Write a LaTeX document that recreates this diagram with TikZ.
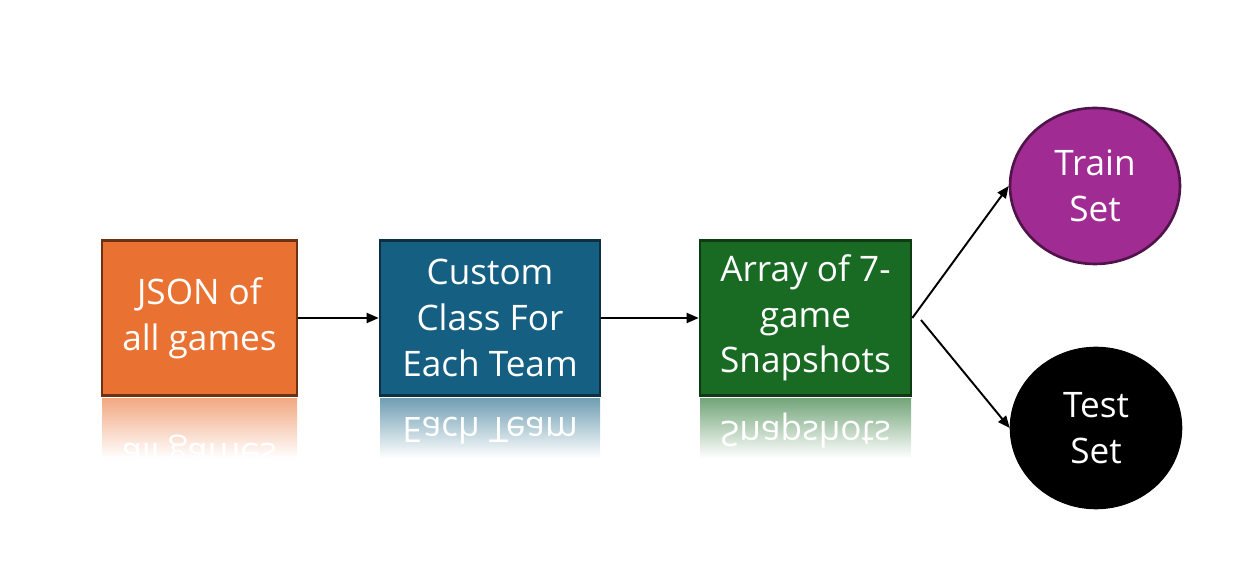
\documentclass[tikz,border=0pt]{standalone}
\usepackage{fontspec}
\setmainfont{Open Sans}
\usetikzlibrary{arrows.meta,shapes.geometric}

\definecolor{jsonfill}{RGB}{233,113,50}
\definecolor{jsonline}{RGB}{110,50,18}
\definecolor{teamfill}{RGB}{21,96,130}
\definecolor{teamline}{RGB}{12,48,66}
\definecolor{snapfill}{RGB}{25,107,36}
\definecolor{snapline}{RGB}{14,58,20}
\definecolor{trainfill}{RGB}{160,43,147}
\definecolor{trainline}{RGB}{80,20,74}

\begin{document}
\begin{tikzpicture}[x=0.02cm, y=-0.02cm,
    stepbox/.style={draw, line width=1.5pt, minimum height=3.1cm, inner sep=0pt,
        text=white, align=center, font=\fontsize{20}{26}\selectfont},
    mirror/.style={text=white, align=center, inner sep=0pt, transform shape,
        font=\fontsize{20}{26}\selectfont},
    setnode/.style={ellipse, draw, line width=1.5pt, minimum width=3.4cm, inner sep=0pt,
        text=white, align=center, font=\fontsize{20}{26}\selectfont},
    flow/.style={-{Triangle[length=0.24cm,width=0.2cm]}, line width=1.1pt}]

  \useasboundingbox (0,0) rectangle (1242,580);

	%draw boxes and their reflections
 \def\by{318};
 \def\ry{476};
    \foreach \x/\w/\txt/\name in { 199.5/195/{JSON of\\all games}/json, 490/220/{Custom\\Class For\\Each Team}/team, 805.5/211/{Array of 7-\\game\\Snapshots}/snap}{
         \node[stepbox, minimum width=\w*0.02cm, fill=\name fill, draw=\name line] (\name) at (\x, \by) {\txt};
         \begin{scope}
             \clip (\x-\w/2, 399) rectangle (\x+\w/2, 458);
             \shade[top color=\name fill!60!white, bottom color=white] (\x-\w/2, 399) rectangle (\x+\w/2, 458);
             \begin{scope}[shift={(\x, \ry)}, yscale=-1]
                 \node[mirror] (\name ref) at (0,0) {\txt};
             \end{scope}
         \end{scope}
    }

	%sets
 \node[setnode, fill=trainfill, draw=trainline, minimum height=3.12cm] (train) at (1095,186) {Train\\Set};
 \node[setnode, fill=black, draw=black, minimum height=3.2cm] (test) at (1096,428) {Test\\Set};

	%arrows
 \coordinate (snapout) at (921,320);
 \draw[flow] (json) -- (team);
 \draw[flow] (team) -- (snap);
 \draw[flow] (snap.east) -- (train.west);
 \draw[flow] (snapout) -- (test.west);

\end{tikzpicture}
\end{document}
